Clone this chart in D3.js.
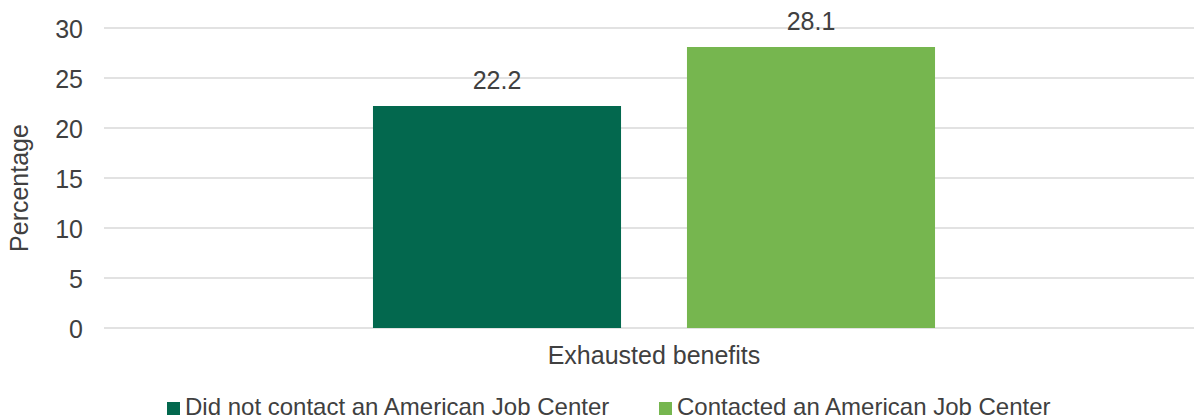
<!DOCTYPE html>
<html>
<head>
<meta charset="utf-8">
<script src="https://cdn.jsdelivr.net/npm/d3@7"></script>
<style>
  html, body { margin: 0; padding: 0; background: #fff; }
  svg { display: block; font-family: "Liberation Sans", Arial, sans-serif; }
</style>
</head>
<body>
<svg id="chart" width="1194" height="419"></svg>
<script>
// Data
const categories = ["Exhausted benefits"];
const seriesNames = ["Did not contact an American Job Center", "Contacted an American Job Center"];
const seriesValues = [[22.2], [28.1]];
const seriesColors = ["#03684e", "#76b64f"];
const yTicks = [0, 5, 10, 15, 20, 25, 30];
const yTitle = "Percentage";

const W = 1194, H = 419;
const svg = d3.select("#chart");
const textColor = "#404040";
const fontSize = 25;

const plot = { left: 104, right: 1204, top: 28, bottom: 328 };

const y = d3.scaleLinear().domain([0, 30]).range([plot.bottom, plot.top]);

const x0 = d3.scaleBand()
  .domain(categories)
  .range([plot.left, plot.right])
  .paddingOuter(0.3758)
  .paddingInner(0);

const x1 = d3.scaleBand()
  .domain(seriesNames)
  .range([0, x0.bandwidth()])
  .paddingInner(0.21)
  .paddingOuter(0.105);

// Gridlines
svg.append("g")
  .selectAll("line")
  .data(yTicks)
  .join("line")
  .attr("x1", plot.left)
  .attr("x2", W)
  .attr("y1", d => y(d))
  .attr("y2", d => y(d))
  .attr("stroke", "#d9d9d9")
  .attr("stroke-width", 1.6);

// Y axis tick labels
const yAxis = d3.axisLeft(y).tickValues(yTicks).tickSize(0).tickPadding(0);
const yg = svg.append("g")
  .attr("transform", `translate(${plot.left - 21},0)`)
  .call(yAxis);
yg.select(".domain").remove();
yg.selectAll("text")
  .attr("fill", textColor)
  .attr("font-size", fontSize)
  .attr("font-family", "Liberation Sans, Arial, sans-serif")
  .attr("dy", "0.36em");

// Y axis title
svg.append("text")
  .attr("transform", `translate(28,${(plot.top + plot.bottom) / 2 + 10}) rotate(-90)`)
  .attr("text-anchor", "middle")
  .attr("fill", textColor)
  .attr("font-size", fontSize)
  .text(yTitle);

// Bars
const groups = svg.append("g")
  .selectAll("g")
  .data(categories)
  .join("g")
  .attr("transform", d => `translate(${x0(d)},0)`);

seriesNames.forEach((name, si) => {
  groups.append("rect")
    .attr("x", x1(name))
    .attr("width", x1.bandwidth())
    .attr("y", (d, ci) => y(seriesValues[si][ci]))
    .attr("height", (d, ci) => y(0) - y(seriesValues[si][ci]))
    .attr("fill", seriesColors[si]);

  groups.append("text")
    .attr("x", x1(name) + x1.bandwidth() / 2)
    .attr("y", (d, ci) => y(seriesValues[si][ci]) - 17)
    .attr("text-anchor", "middle")
    .attr("fill", textColor)
    .attr("font-size", fontSize)
    .text((d, ci) => seriesValues[si][ci].toFixed(1));
});

// Category axis labels
svg.append("g")
  .selectAll("text")
  .data(categories)
  .join("text")
  .attr("x", d => x0(d) + x0.bandwidth() / 2)
  .attr("y", 364)
  .attr("text-anchor", "middle")
  .attr("fill", textColor)
  .attr("font-size", fontSize)
  .text(d => d);

// Legend
const legendX = [167, 659];
const legend = svg.append("g")
  .selectAll("g")
  .data(seriesNames)
  .join("g")
  .attr("transform", (d, i) => `translate(${legendX[i]},0)`);

legend.append("rect")
  .attr("x", 0)
  .attr("y", 402)
  .attr("width", 13)
  .attr("height", 13)
  .attr("fill", (d, i) => seriesColors[i]);

legend.append("text")
  .attr("x", 18)
  .attr("y", 415)
  .attr("fill", textColor)
  .attr("font-size", 24)
  .text(d => d);
</script>
</body>
</html>
